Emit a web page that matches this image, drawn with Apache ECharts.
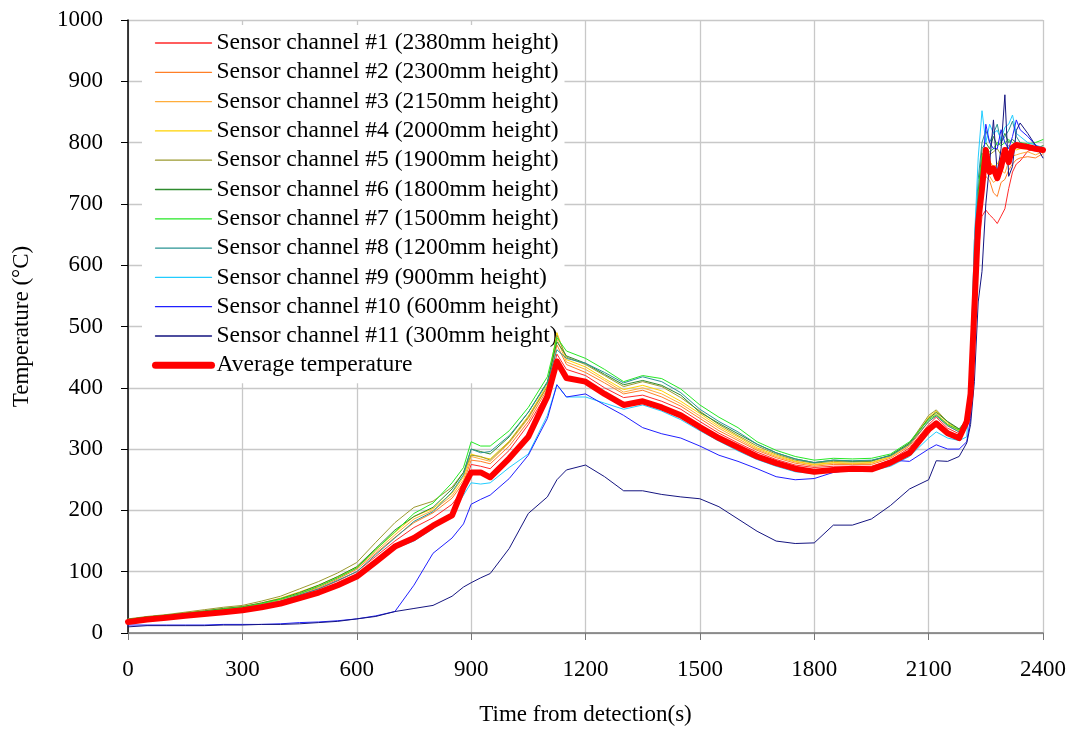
<!DOCTYPE html>
<html>
<head>
<meta charset="utf-8">
<script src="https://cdn.jsdelivr.net/npm/echarts@6/dist/echarts.min.js"></script>
<style>
html,body{margin:0;padding:0;background:#fff;}
#chart{width:1073px;height:733px;}
</style>
</head>
<body>
<div id="chart"></div>
<script>
// Time stamps (s) shared by all series
const times = [0,50,100,150,200,250,300,350,400,450,500,550,600,650,700,750,800,850,880,900,925,950,1000,1050,1100,1125,1150,1200,1250,1300,1350,1400,1450,1500,1550,1600,1650,1700,1750,1800,1850,1900,1950,2000,2050,2100,2120,2150,2180,2200,2210,2220,2230,2240,2250,2260,2270,2280,2290,2300,2310,2320,2330,2340,2360,2380,2400];

const seriesNames = [
  'Sensor channel #1 (2380mm height)',
  'Sensor channel #2 (2300mm height)',
  'Sensor channel #3 (2150mm height)',
  'Sensor channel #4 (2000mm height)',
  'Sensor channel #5 (1900mm height)',
  'Sensor channel #6 (1800mm height)',
  'Sensor channel #7 (1500mm height)',
  'Sensor channel #8 (1200mm height)',
  'Sensor channel #9 (900mm height)',
  'Sensor channel #10 (600mm height)',
  'Sensor channel #11 (300mm height)',
  'Average temperature'
];

const ch1 = [20,24,27,30,33,37,40,46,52,62,72,85,100,125,150,172,188,210,235,275,272,268,298,340,392,455,430,420,400,384,388,378,365,345,326,310,295,283,274,270,272,272,272,282,302,340,352,334,325,335,380,500,620,680,690,682,676,668,680,692,725,752,765,770,786,790,786];
const ch2 = [21,25,28,31,34,38,41,47,54,64,74,88,104,130,156,180,196,220,245,282,280,276,305,345,398,470,438,425,408,390,396,385,370,350,330,314,298,286,277,272,275,275,275,285,305,345,355,338,328,340,395,540,650,720,745,738,718,712,735,740,755,765,772,775,777,775,782];
const ch3 = [22,26,29,32,35,39,42,48,55,65,76,90,106,133,160,186,200,224,250,288,284,280,310,350,402,480,442,430,412,393,400,390,374,354,334,317,300,288,279,274,277,276,277,287,307,350,358,340,330,342,400,560,670,735,760,745,735,740,755,750,770,778,780,782,785,780,785];
const ch4 = [22,26,29,33,36,40,43,49,57,67,78,92,108,136,164,190,203,228,255,292,287,284,313,354,405,490,446,434,415,397,404,395,378,358,337,320,302,290,280,275,278,277,278,288,308,352,362,342,331,344,405,580,690,760,780,770,760,765,775,770,780,790,788,790,790,788,790];
const ch5 = [23,27,30,34,38,42,45,52,60,72,84,98,115,148,180,205,215,238,262,290,288,282,312,352,402,486,450,438,420,402,410,402,384,362,340,322,305,292,282,277,280,279,280,290,310,355,364,344,332,345,410,590,700,770,790,780,785,790,780,790,795,790,792,795,792,790,792];
const ch6 = [22,26,29,32,36,40,43,49,56,66,78,92,108,138,168,190,205,235,262,300,296,292,320,360,410,475,452,440,422,405,412,404,388,360,342,325,308,294,284,278,282,280,281,290,310,350,360,345,333,348,420,610,720,790,800,790,810,795,800,815,800,805,800,795,792,790,795];
const ch7 = [22,26,29,32,35,39,42,48,55,64,76,90,106,136,165,195,212,245,270,312,305,305,330,368,418,482,460,448,430,410,420,415,398,372,352,335,312,298,288,282,285,284,285,292,312,348,356,340,331,346,410,600,710,780,790,785,790,800,795,800,805,800,795,800,798,800,805];
const ch8 = [20,24,27,30,33,37,40,46,52,62,72,86,100,128,155,182,198,230,258,300,294,296,322,360,408,462,448,440,425,408,418,410,392,365,345,328,308,294,284,278,282,281,282,289,308,345,354,338,328,342,430,640,740,800,820,800,815,830,800,810,820,835,810,800,795,792,790];
const ch9 = [18,22,25,28,31,35,38,43,49,58,67,79,93,116,138,150,170,195,225,245,243,245,270,292,355,405,385,385,375,365,372,362,348,330,313,297,283,272,263,260,264,265,265,272,288,318,328,318,314,320,420,640,775,852,800,830,815,820,805,825,830,845,815,810,800,796,792];
const ch10 = [13,13,13,13,13,14,14,14,15,17,18,20,23,28,35,78,130,155,178,210,218,225,252,290,350,405,385,390,372,355,335,325,318,305,290,280,268,255,250,252,262,266,270,282,280,300,307,300,300,312,350,480,650,740,830,800,790,790,821,800,790,810,837,821,810,796,788];
const ch11 = [10,12,12,12,12,13,13,14,14,15,17,19,23,27,35,40,45,60,75,82,90,97,138,195,222,250,266,274,255,232,232,226,222,219,206,186,166,150,146,147,176,176,186,208,235,250,281,280,288,310,340,410,540,590,700,766,837,750,790,878,745,761,820,832,815,796,775];
const avg = [18,22,25,28,31,34,37,42,48,57,66,78,92,116,141,155,175,192,238,262,262,254,285,320,386,443,416,410,390,372,378,368,355,336,318,303,288,277,268,263,266,268,267,278,294,332,342,326,318,345,390,530,670,725,788,752,758,742,760,788,768,792,796,795,793,790,788];

const channelData = [ch1,ch2,ch3,ch4,ch5,ch6,ch7,ch8,ch9,ch10,ch11,avg];
const colors = ['#FF2A2A','#FF7F27','#FFAD3B','#FFD200','#9C9A30','#2E8B2E','#26E826','#2A9494','#22CCFF','#2020FF','#151580','#FF0000'];

const FONT = "'Liberation Serif','Times New Roman',serif";
const lastIdx = channelData.length - 1;

const series = channelData.map((vals, i) => {
  const isAvg = i === lastIdx;
  return {
    name: seriesNames[i],
    type: 'line',
    data: times.map((t, k) => [t, vals[k]]),
    showSymbol: false,
    symbol: 'none',
    z: isAvg ? 5 : 3,
    lineStyle: {
      color: colors[i],
      width: isAvg ? 6 : 1,
      cap: 'round',
      join: 'round'
    },
    itemStyle: { color: colors[i] },
    emphasis: { disabled: true }
  };
});

const legendData = seriesNames.map((n, i) => i === lastIdx
  ? { name: n, lineStyle: { width: 7, color: colors[i], cap: 'round' } }
  : { name: n, lineStyle: { width: 1.3, color: colors[i] } });

const chart = echarts.init(document.getElementById('chart'), null, { renderer: 'canvas' });
chart.setOption({
  animation: false,
  backgroundColor: '#fff',
  textStyle: { fontFamily: FONT, color: '#000' },
  grid: { left: 128, right: 30, top: 20, bottom: 100, containLabel: false },
  legend: {
    orient: 'vertical',
    left: 142,
    top: 25,
    z: 1,
    backgroundColor: '#fff',
    padding: [6, 6, 6, 10],
    itemWidth: 56,
    itemHeight: 14,
    itemGap: 5.3,
    itemStyle: { opacity: 0 },
    textStyle: { fontFamily: FONT, fontSize: 23.5, color: '#000' },
    data: legendData
  },
  xAxis: {
    type: 'value',
    min: 0,
    max: 2400,
    interval: 300,
    name: 'Time from detection(s)',
    nameLocation: 'middle',
    nameGap: 70,
    nameTextStyle: { fontFamily: FONT, fontSize: 23, color: '#000' },
    axisLine: { show: true, onZero: false, lineStyle: { color: '#777', width: 1.5 } },
    axisTick: { show: true, inside: false, length: 7, lineStyle: { color: '#777', width: 1 } },
    axisLabel: { fontFamily: FONT, fontSize: 23, color: '#000', margin: 25, formatter: v => String(v) },
    splitLine: { show: true, lineStyle: { color: '#C8C8C8', width: 1.3 } }
  },
  yAxis: {
    type: 'value',
    min: 0,
    max: 1000,
    interval: 100,
    name: 'Temperature (°C)',
    nameLocation: 'middle',
    nameGap: 95,
    nameTextStyle: { fontFamily: FONT, fontSize: 23, color: '#000' },
    axisLine: { show: true, lineStyle: { color: '#000', width: 1.5 } },
    axisTick: { show: true, inside: false, length: 7, lineStyle: { color: '#000', width: 1 } },
    axisLabel: { fontFamily: FONT, fontSize: 23, color: '#000', margin: 25, formatter: v => String(v) },
    splitLine: { show: true, lineStyle: { color: '#C8C8C8', width: 1.3 } }
  },
  series: series
});
</script>
</body>
</html>
